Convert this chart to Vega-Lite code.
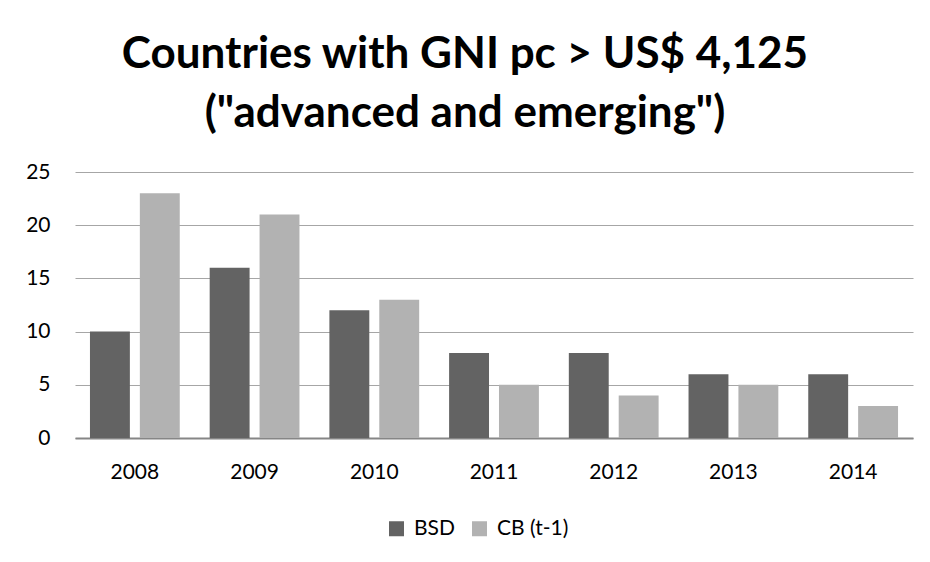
{
  "$schema": "https://vega.github.io/schema/vega-lite/v6.json",
  "width": 838,
  "height": 266,
  "autosize": {"type": "none"},
  "padding": {"left": 75, "top": 172, "right": 17, "bottom": 124},
  "background": "white",
  "title": {
    "text": ["Countries with GNI pc > US$ 4,125", "(\"advanced and emerging\")"],
    "font": "Lato",
    "fontSize": 44,
    "fontWeight": "bold",
    "color": "#000000",
    "anchor": "middle",
    "dx": -29,
    "offset": 25,
    "lineHeight": 59
  },
  "data": {
    "values": [
      {"year": "2008", "series": "BSD", "value": 10},
      {"year": "2008", "series": "CB (t-1)", "value": 23},
      {"year": "2009", "series": "BSD", "value": 16},
      {"year": "2009", "series": "CB (t-1)", "value": 21},
      {"year": "2010", "series": "BSD", "value": 12},
      {"year": "2010", "series": "CB (t-1)", "value": 13},
      {"year": "2011", "series": "BSD", "value": 8},
      {"year": "2011", "series": "CB (t-1)", "value": 5},
      {"year": "2012", "series": "BSD", "value": 8},
      {"year": "2012", "series": "CB (t-1)", "value": 4},
      {"year": "2013", "series": "BSD", "value": 6},
      {"year": "2013", "series": "CB (t-1)", "value": 5},
      {"year": "2014", "series": "BSD", "value": 6},
      {"year": "2014", "series": "CB (t-1)", "value": 3}
    ]
  },
  "mark": {"type": "bar"},
  "encoding": {
    "x": {
      "field": "year", "type": "nominal",
      "scale": {"paddingInner": 0.25, "paddingOuter": 0.125},
      "axis": {"title": null, "labelAngle": 0, "ticks": false, "labelPadding": 23,
               "labelFont": "Lato", "labelFontSize": 21, "labelColor": "#000000",
               "domainColor": "#868686", "domainWidth": 2}
    },
    "xOffset": {"field": "series", "type": "nominal", "scale": {"paddingInner": 0.2}},
    "y": {
      "field": "value", "type": "quantitative",
      "scale": {"domain": [0, 25]},
      "axis": {"title": null, "values": [0, 5, 10, 15, 20, 25], "ticks": false, "domain": false,
               "labelPadding": 25, "labelFont": "Lato", "labelFontSize": 21, "labelColor": "#000000",
               "gridColor": "#a6a6a6", "gridWidth": 1}
    },
    "color": {
      "field": "series", "type": "nominal",
      "scale": {"domain": ["BSD", "CB (t-1)"], "range": ["#636363", "#b2b2b2"]},
      "legend": {"title": null, "orient": "none", "legendX": 311, "legendY": 346, "direction": "horizontal", "symbolType": "square",
                 "symbolSize": 225, "symbolStrokeWidth": 0, "labelFont": "Lato", "labelFontSize": 21, "labelColor": "#000000",
                 "labelOffset": 7, "columnPadding": 14}
    }
  },
  "config": {"view": {"stroke": null}}
}
